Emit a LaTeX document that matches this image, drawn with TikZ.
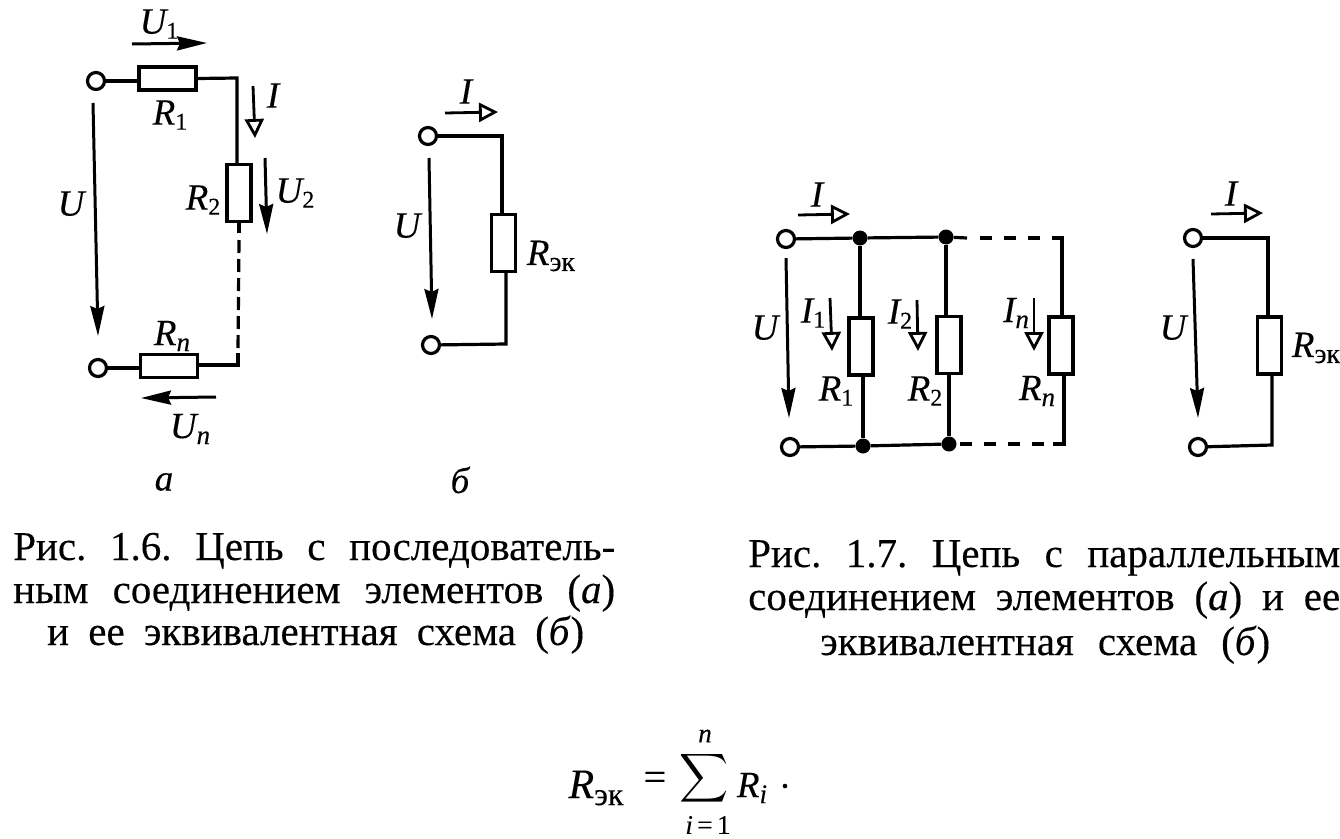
\documentclass[tikz,border=0pt]{standalone}
\usepackage{fontspec}
\setmainfont{Liberation Serif}[FakeBold=0.25,ItalicFeatures={FakeBold=0.25}]
\usetikzlibrary{arrows.meta}
\newcommand{\Lab}[2]{{\fontsize{37}{37}\selectfont\itshape #1}\raisebox{-5pt}{\fontsize{24}{24}\selectfont #2}}
\newcommand{\LabI}[2]{{\fontsize{37}{37}\selectfont\itshape #1}\raisebox{-6pt}{\fontsize{27}{27}\selectfont\itshape #2}}
\newcommand{\Rek}{{\fontsize{37}{37}\selectfont\itshape R}\raisebox{-6pt}{\fontsize{28}{28}\selectfont эк}}
\newcommand{\RekBig}{{\fontsize{42}{42}\selectfont\itshape R}\raisebox{-7pt}{\fontsize{32}{32}\selectfont эк}}
\newcommand{\CapLine}[2]{\makebox[#1pt][s]{\fontsize{41}{41}\selectfont #2}}
\tikzset{
  wire/.style={line width=3.2pt,line join=miter},
  dashv/.style={line width=3.2pt,dash pattern=on 13pt off 6pt},
  dashh/.style={line width=3.2pt,dash pattern=on 12pt off 12pt},
  term/.style={circle,draw,line width=3.2pt,fill=white,minimum size=17pt,inner sep=0pt},
  jct/.style={circle,fill=black,minimum size=15pt,inner sep=0pt},
  resh/.style={rectangle,draw,line width=3.2pt,fill=white,minimum width=57pt,minimum height=23pt,inner sep=0pt},
  resv/.style={rectangle,draw,line width=3.2pt,fill=white,minimum width=24pt,minimum height=57pt,inner sep=0pt},
  solidarrow/.style={line width=3pt,-{Stealth[length=30pt,width=14pt,inset=3pt]}},
  openarrow/.style={line width=2.8pt,-{Triangle[open,length=19pt,width=19pt,line width=2.8pt]}},
  lab/.style={inner sep=0pt,anchor=center},
  captext/.style={inner sep=0pt,anchor=base west},
}
\begin{document}
\begin{tikzpicture}[x=1pt,y=-1pt]
\useasboundingbox (0,0) rectangle (1340,838);
% --- Fig 1.6 a
\node[term] (t1) at (96,81) {};
\node[resh] (r1) at (167.5,78.5) {};
\node[resv] (r2) at (239,193) {};
\node[resh] (rn) at (169,366) {};
\node[term] (tn) at (98,368) {};
\coordinate (c1) at (237,78);
\coordinate (c2) at (239,233);
\coordinate (c2d) at (239,240);
\coordinate (c4d) at (238,350);
\coordinate (c4) at (238,353);
\coordinate (c3) at (238,365);
\draw[wire] (t1) -- (r1.west |- t1);
\draw[wire] (r1.east) -- (c1) -- (c1 |- r2.north);
\draw[wire] (r2.south) -- (c2);
\draw[dashv] (c2d) -- (c4d);
\draw[wire] (c4) -- (c3) -- (rn.east |- c3);
\draw[wire] (tn) -- (rn.west |- tn);
\coordinate (au1a) at (132,44); \coordinate (au1b) at (207,43);
\draw[solidarrow] (au1a) -- (au1b);
\coordinate (aia) at (253,86); \coordinate (aib) at (255,138);
\draw[openarrow] (aia) -- (aib);
\coordinate (au2a) at (265,158); \coordinate (au2b) at (267,234);
\draw[solidarrow] (au2a) -- (au2b);
\coordinate (aua) at (93,103); \coordinate (aub) at (98,336);
\draw[solidarrow] (aua) -- (aub);
\coordinate (auna) at (216,397); \coordinate (aunb) at (141,398);
\draw[solidarrow] (auna) -- (aunb);
\node[lab] (lu1) at (159,24) {\Lab{U}{1}};
\node[lab] (lr1) at (170,115) {\Lab{R}{1}};
\node[lab] (li) at (273,98) {\Lab{I}{}};
\node[lab] (lr2) at (203,200) {\Lab{R}{2}};
\node[lab] (lu2) at (295,193) {\Lab{U}{2}};
\node[lab] (lu) at (71,206) {\Lab{U}{}};
\node[lab] (lrn) at (172,336) {\LabI{R}{n}};
\node[lab] (lun) at (190,429) {\LabI{U}{n}};
\node[lab] (la) at (164,482) {\fontsize{37}{37}\selectfont\itshape а};
% --- Fig 1.6 b
\node[term] (bt1) at (428,136) {};
\node[resv] (br) at (503.5,243) {};
\node[term] (bt2) at (431,345) {};
\coordinate (bc1) at (502,136);
\coordinate (bc2) at (506,344);
\draw[wire] (bt1) -- (bc1) -- (bc1 |- br.north);
\draw[wire] (bc2 |- br.south) -- (bc2) -- (bt2);
\coordinate (bia) at (445,113); \coordinate (bib) at (498,112);
\draw[openarrow] (bia) -- (bib);
\coordinate (bua) at (429,158); \coordinate (bub) at (432,319);
\draw[solidarrow] (bua) -- (bub);
\node[lab] (bli) at (466,94) {\Lab{I}{}};
\node[lab] (blu) at (407,228) {\Lab{U}{}};
\node[lab] (blr) at (551,256) {\Rek};
\node[lab] (lb) at (460,480) {\fontsize{37}{37}\selectfont\itshape б};
% --- Caption 1.6
\node[captext] (c61) at (13,560) {\CapLine{602}{Рис.\hfill 1.6.\hfill Цепь\hfill с\hfill последователь-}};
\node[captext] (c62) at (13,603) {\CapLine{602}{ным\hfill соединением\hfill элементов\hfill (\textit{а})}};
\node[captext] (c63) at (47,645) {\CapLine{537}{и\hfill ее\hfill эквивалентная\hfill схема\hfill (\textit{б})}};
% --- Fig 1.7 a
\node[term] (pt1) at (786,239) {};
\node[jct] (j1) at (860,238) {};
\node[jct] (j2) at (946,237) {};
\node[resv] (pr1) at (861,346.5) {};
\node[resv] (pr2) at (949,345) {};
\node[resv] (prn) at (1061,345.5) {};
\node[term] (pt2) at (790,447) {};
\node[jct] (j3) at (863,446) {};
\node[jct] (j4) at (949,444) {};
\coordinate (pc1) at (1062,238);
\coordinate (pc2) at (1064,444);
\coordinate (pd1) at (967,238);
\coordinate (pd1d) at (980,238);
\coordinate (pe1d) at (1042,238);
\coordinate (pe1) at (1052,238);
\coordinate (pd2) at (960,444);
\coordinate (pe2d) at (1045,444);
\coordinate (pe2) at (1053,444);
\draw[wire] (pt1) -- (j1) -- (j2) -- (pd1);
\draw[dashh] (pd1d) -- (pe1d);
\draw[wire] (pe1) -- (pc1) -- (pc1 |- prn.north);
\draw[wire] (j1) -- (j1 |- pr1.north);
\draw[wire] (j2) -- (j2 |- pr2.north);
\draw[wire] (pr1.south -| j3) -- (j3);
\draw[wire] (pr2.south -| j4) -- (j4);
\draw[wire] (pc2 |- prn.south) -- (pc2) -- (pe2);
\draw[dashh] (pd2) -- (pe2d);
\draw[wire] (pt2) -- (j3) -- (j4);
\coordinate (pia) at (798,215); \coordinate (pib) at (850,214);
\draw[openarrow] (pia) -- (pib);
\coordinate (pua) at (786,258); \coordinate (pub) at (789,418);
\draw[solidarrow] (pua) -- (pub);
\coordinate (i1a) at (830,298); \coordinate (i1b) at (832,351);
\draw[openarrow] (i1a) -- (i1b);
\coordinate (i2a) at (917,300); \coordinate (i2b) at (918,351);
\draw[openarrow] (i2a) -- (i2b);
\coordinate (ina) at (1034,298); \coordinate (inb) at (1034,351);
\draw[openarrow] (ina) -- (inb);
\node[lab] (pli) at (817,197) {\Lab{I}{}};
\node[lab] (plu) at (765,330) {\Lab{U}{}};
\node[lab] (pli1) at (813,313) {\Lab{I}{1}};
\node[lab] (pli2) at (900,314) {\Lab{I}{2}};
\node[lab] (plin) at (1016,313) {\LabI{I}{n}};
\node[lab] (plr1) at (836,391) {\Lab{R}{1}};
\node[lab] (plr2) at (925,391) {\Lab{R}{2}};
\node[lab] (plrn) at (1037,391) {\LabI{R}{n}};
% --- Fig 1.7 b
\node[term] (qt1) at (1193,238) {};
\node[resv] (qr) at (1269.5,345.5) {};
\node[term] (qt2) at (1198,447) {};
\coordinate (qc1) at (1268,238);
\coordinate (qc2) at (1272,445);
\draw[wire] (qt1) -- (qc1) -- (qc1 |- qr.north);
\draw[wire] (qc2 |- qr.south) -- (qc2) -- (qt2);
\coordinate (qia) at (1211,214); \coordinate (qib) at (1263,213);
\draw[openarrow] (qia) -- (qib);
\coordinate (qua) at (1193,259); \coordinate (qub) at (1198,418);
\draw[solidarrow] (qua) -- (qub);
\node[lab] (qli) at (1231,196) {\Lab{I}{}};
\node[lab] (qlu) at (1173,330) {\Lab{U}{}};
\node[lab] (qlr) at (1316,348) {\Rek};
% --- Caption 1.7
\node[captext] (c71) at (748,567) {\CapLine{592}{Рис.\hfill 1.7.\hfill Цепь\hfill с\hfill параллельным}};
\node[captext] (c72) at (748,610) {\CapLine{592}{соединением\hfill элементов\hfill (\textit{а})\hfill и\hfill ее}};
\node[captext] (c73) at (820,655) {\CapLine{450}{эквивалентная\hfill схема\hfill (\textit{б})}};
% --- Formula
\node[lab] (fr) at (596,788) {\RekBig};
\node[lab] (feq) at (655,781) {\fontsize{40}{40}\selectfont =};
\node[lab] (fs) at (704,778) {\scalebox{3.4}{$\displaystyle\sum$}};
\node[lab] (fn) at (705,736) {\fontsize{27}{27}\selectfont\itshape n};
\node[lab] (fi) at (708,825) {\fontsize{27}{27}\selectfont\itshape i\,\upshape=\,1};
\node[lab] (fri) at (752,788) {\LabI{R}{i}};
\node[lab] (fd) at (785,786) {\fontsize{37}{37}\selectfont .};
\end{tikzpicture}
\end{document}
